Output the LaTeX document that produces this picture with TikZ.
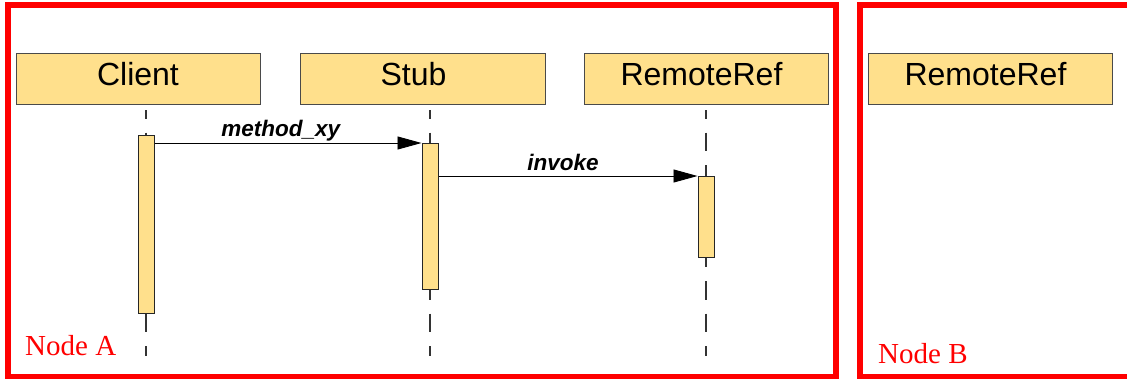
\documentclass[tikz,border=0pt]{standalone}
\usepackage{fontspec}
\setmainfont{Liberation Serif}
\newfontfamily\diagsans{Liberation Sans}
\usetikzlibrary{arrows.meta}
\definecolor{actfill}{HTML}{FFE08C}
\definecolor{framered}{HTML}{FF0000}
\definecolor{edgegray}{HTML}{4A4A4A}
\tikzset{
  header/.style={draw=edgegray, line width=1pt, fill=actfill,
    minimum width=244pt, minimum height=51pt, inner sep=0pt,
    font=\diagsans\fontsize{32}{36}\selectfont, text height=23pt, text depth=10pt},
  activation/.style={draw=black!85, line width=1pt, fill=actfill,
    minimum width=16pt, inner sep=0pt, anchor=north},
  lifeline/.style={draw=black!80, line width=1.1pt, dash pattern=on 18.5pt off 14pt},
  message/.style={draw=black, line width=0.9pt, -{Triangle[length=24pt,width=13pt]}},
  msglabel/.style={font=\diagsans\bfseries\itshape\fontsize{22.5}{26}\selectfont,
    inner sep=0pt, anchor=base},
  frame/.style={draw=framered, line width=6.5pt},
  framelabel/.style={text=framered, font=\fontsize{29}{32}\selectfont,
    inner sep=0pt, anchor=base west},
}
\begin{document}
\begin{tikzpicture}[x=1pt, y=-1pt]
  \useasboundingbox (0,0) rectangle (1127,378);
  \clip (0,0) rectangle (1127,378);

  % deployment frames
  \draw[frame] (8,5) rectangle (836,377);
  \draw[frame] (1140,5) -- (860,5) -- (860,377) -- (1140,377);
  \node[framelabel] (nodeA) at (25,355) {Node A};
  \node[framelabel] (nodeB) at (878,363) {Node B};

  % participants
  \node[header] (client) at (138,78.5) {Client};
  \node[header, minimum width=245pt] (stub) at (422.5,78.5) {Stub\hspace*{18pt}};
  \node[header] (remoteA) at (706,78.5) {RemoteRef\hspace*{9pt}};
  \node[header] (remoteB) at (990,78.5) {RemoteRef\hspace*{9pt}};

  % activation bars
  \node[activation, minimum height=178pt] (clientAct) at (146,135) {};
  \node[activation, minimum height=146pt] (stubAct) at (430,143) {};
  \node[activation, minimum height=81pt] (remoteAct) at (706,176) {};

  % lifelines above and below the activation bars
  \draw[lifeline, dash phase=10pt] ([yshift=25pt]clientAct.north) -- (clientAct.north);
  \draw[lifeline, dash phase=10pt] ([yshift=33pt]stubAct.north) -- (stubAct.north);
  \draw[lifeline, dash phase=10pt] ([yshift=66pt]remoteAct.north) -- (remoteAct.north);
  \draw[lifeline, dash phase=0.5pt] (clientAct.south) -- ([yshift=-42pt]clientAct.south);
  \draw[lifeline, dash phase=9pt] (stubAct.south) -- ([yshift=-66pt]stubAct.south);
  \draw[lifeline, dash phase=9.5pt] (remoteAct.south) -- ([yshift=-98pt]remoteAct.south);

  % messages
  \draw[message] (clientAct.east |- stubAct.north) -- (stubAct.north west);
  \draw[message] (stubAct.east |- remoteAct.north) -- (remoteAct.north west);
  \node[msglabel] (lblMethod) at (280.8,136.7) {method\_xy};
  \node[msglabel] (lblInvoke) at (563,170) {invoke};
\end{tikzpicture}
\end{document}
